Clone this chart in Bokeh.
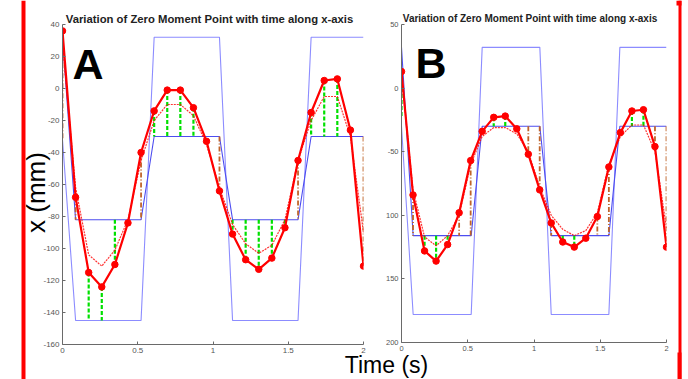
import math
from bokeh.plotting import figure
from bokeh.models import Range1d, FixedTicker
from bokeh.core.properties import value
from bokeh.embed import file_html
from bokeh.resources import INLINE

# ---------------- data ----------------
time_s = [0.0, 0.087, 0.174, 0.261, 0.348, 0.435, 0.522, 0.609, 0.696, 0.783, 0.870, 0.957,
          1.043, 1.130, 1.217, 1.304, 1.391, 1.478, 1.565, 1.652, 1.739, 1.826, 1.913, 2.0]

# Panel A
a_zmp = [36, -68, -115, -124, -110, -84, -40, -14, -1, -1, -12, -33,
         -64, -91, -107, -113, -106, -87, -45, -15, 5, 6, -26, -111]
a_ref = [28, -62, -104, -111, -101, -82, -45, -20, -10, -10, -17, -35,
         -62, -85, -97, -103, -98, -82, -45, -20, -5, -5, -30, -90]
a_bound_t = [0.0, 0.087, 0.522, 0.609, 1.043, 1.130, 1.565, 1.652, 2.0]
a_outer = [-32, -145, -145, 32, 32, -145, -145, 32, 32]
a_inner = [32, -82, -82, -30, -30, -82, -82, -30, -30]
a_green_t = [0.174, 0.261, 0.348, 0.609, 0.696, 0.783, 0.870, 1.130, 1.217, 1.304, 1.391, 1.478, 1.652, 1.739, 1.826]
a_green_y0 = [-115, -124, -82, -14, -1, -1, -12, -82, -82, -82, -82, -82, -15, 5, 6]
a_green_y1 = [-145, -145, -110, -30, -30, -30, -30, -91, -107, -113, -106, -87, -30, -30, -30]
a_brown_t = [0.0, 0.087, 0.522, 1.043, 1.565, 2.0]
a_brown_y0 = [22, -68, -40, -30, -45, -30]
a_brown_y1 = [-32, -82, -82, -64, -82, -111]
a_yticks = [40, 20, 0, -20, -40, -60, -80, -100, -120, -140, -160]
a_ylabels = ["40", "20", "0", "-20", "-40", "-60", "-80", "-100", "-120", "-140", "-160"]

# Panel B
b_zmp = [13, -84, -128, -136, -123, -98, -57, -34, -23, -22, -32, -52,
         -80, -106, -121, -125, -118, -101, -62, -35, -18, -17, -46, -125]
b_ref = [10, -80, -117, -124, -116, -100, -60, -38, -31, -31, -36, -50,
         -78, -100, -111, -116, -112, -98, -60, -38, -29, -29, -50, -110]
b_bound_t = [0.0, 0.088, 0.526, 0.609, 1.044, 1.130, 1.565, 1.648, 2.0]
b_outer = [-30, -178, -178, 32, 32, -178, -178, 32, 32]
b_inner = [32, -116, -116, -30, -30, -116, -116, -30, -30]
b_green_t = [0.0, 0.174, 0.261, 0.348, 0.696, 0.783, 1.217, 1.304, 1.739, 1.826]
b_green_y0 = [0, -116, -116, -116, -23, -22, -116, -116, -18, -17]
b_green_y1 = [-22, -128, -136, -123, -30, -30, -121, -125, -30, -30]
b_brown_t = [0.087, 0.435, 0.522, 0.957, 1.043, 1.130, 1.478, 1.565, 1.913, 2.0]
b_brown_y0 = [-84, -98, -57, -30, -30, -106, -101, -62, -30, -30]
b_brown_y1 = [-116, -116, -116, -52, -80, -116, -116, -116, -46, -125]
b_yticks = [50, 0, -50, -100, -150, -200]
b_ylabels = ["50", "0", "-50", "100", "150", "200"]

x_ticks = [0, 0.5, 1, 1.5, 2]
x_labels = ["0", "0.5", "1", "1.5", "2"]

title_text = "Variation of Zero Moment Point with time along x-axis"
panel_letters = ["A", "B"]
y_label = "x (mm)"
x_label = "Time (s)"

# ---------------- layout ----------------
W, H = 688, 379
FONT = "Liberation Sans"

OUTER_C = "#8c8cff"
INNER_C = "#4d4df0"
GREEN_C = "#00e000"
BROWN_C = "#c0642a"
RED_C = "#ff0000"


def panel(frame_l, frame_r, frame_t, frame_b, yr, zmp, ref, bt, outer, inner,
          gt, gy0, gy1, brt, bry0, bry1, yticks, ylabels, tick_font):
    p = figure(width=W, height=H, x_range=Range1d(0, 2), y_range=Range1d(*yr),
               output_backend="svg", toolbar_location=None,
               min_border_left=frame_l, min_border_right=W - frame_r,
               min_border_top=frame_t, min_border_bottom=H - frame_b)
    p.background_fill_alpha = 0
    p.border_fill_alpha = 0
    p.outline_line_color = None
    p.xgrid.visible = False
    p.ygrid.visible = False
    p.xaxis.ticker = FixedTicker(ticks=x_ticks)
    p.xaxis.major_label_overrides = {float(k): v for k, v in zip(x_ticks, x_labels)}
    p.yaxis.ticker = FixedTicker(ticks=yticks)
    p.yaxis.major_label_overrides = {float(k): v for k, v in zip(yticks, ylabels)}
    for ax in (p.xaxis, p.yaxis):
        ax.axis_line_color = "#6a6a6a"
        ax.major_tick_line_color = "#6a6a6a"
        ax.major_tick_in = 3
        ax.major_tick_out = 0
        ax.minor_tick_line_color = None
        ax.major_label_text_font = FONT
        ax.major_label_text_font_size = tick_font
        ax.major_label_text_color = "#555555"
        ax.major_label_standoff = 3
    p.line(bt, outer, line_color=OUTER_C, line_width=1.1)
    p.line(bt, inner, line_color=INNER_C, line_width=1.1)
    p.segment(x0=gt, y0=gy0, x1=gt, y1=gy1, line_color=GREEN_C, line_width=2.2, line_dash="4 2")
    p.segment(x0=brt, y0=bry0, x1=brt, y1=bry1, line_color=BROWN_C, line_width=1.8, line_dash="5 2 1 2")
    p.line(time_s, ref, line_color=RED_C, line_width=1.2, line_dash="2 1", line_alpha=0.8)
    p.line(time_s, zmp, line_color=RED_C, line_width=2.2)
    p.scatter(time_s, zmp, size=6.5, fill_color=RED_C, line_color=RED_C, marker="circle")
    return p


pa = panel(62, 363, 24, 344, (-160, 40), a_zmp, a_ref, a_bound_t, a_outer, a_inner,
           a_green_t, a_green_y0, a_green_y1, a_brown_t, a_brown_y0, a_brown_y1,
           a_yticks, a_ylabels, "8px")
pb = panel(401, 666, 24, 342, (-200, 50), b_zmp, b_ref, b_bound_t, b_outer, b_inner,
           b_green_t, b_green_y0, b_green_y1, b_brown_t, b_brown_y0, b_brown_y1,
           b_yticks, b_ylabels, "7.5px")

# decoration layer in pixel coordinates of the picture
deco = figure(width=W, height=H, x_range=Range1d(0, W), y_range=Range1d(H, 0),
              x_axis_type=None, y_axis_type=None, min_border=0,
              output_backend="svg", toolbar_location=None)
deco.outline_line_color = None
deco.background_fill_color = "white"
deco.border_fill_color = "white"

deco.quad(left=[21, 678, 676, 677], right=[25, 681, 681, 681],
          top=[0, 0, 0, 352], bottom=[H, H, 5, H], fill_color=RED_C, line_color=None)

deco.text(x=[209], y=[18.3], text=[title_text],
          text_font=value(FONT), text_font_size="11.3px", text_font_style="bold",
          text_color="#222222", text_align="center", text_baseline="alphabetic")
deco.text(x=[529.5], y=[17.5], text=[title_text],
          text_font=value(FONT), text_font_size="10px", text_font_style="bold",
          text_color="#222222", text_align="center", text_baseline="alphabetic")
deco.text(x=[72, 415], y=[63, 62], text=panel_letters,
          text_font=value(FONT), text_font_size="43px", text_font_style="bold",
          text_color="black", text_align="left", text_baseline="alphabetic")
deco.text(x=[35], y=[192], text=[y_label], angle=math.pi / 2,
          text_font=value(FONT), text_font_size="26px", text_color="black",
          text_align="center", text_baseline="middle")
deco.text(x=[386], y=[364], text=[x_label],
          text_font=value(FONT), text_font_size="23px", text_color="black",
          text_align="center", text_baseline="alphabetic")

# separate roots, stacked on top of each other
pa.margin = (-H, 0, 0, 0)
pb.margin = (-H, 0, 0, 0)

open("out.html", "w").write(file_html([deco, pa, pb], INLINE))
